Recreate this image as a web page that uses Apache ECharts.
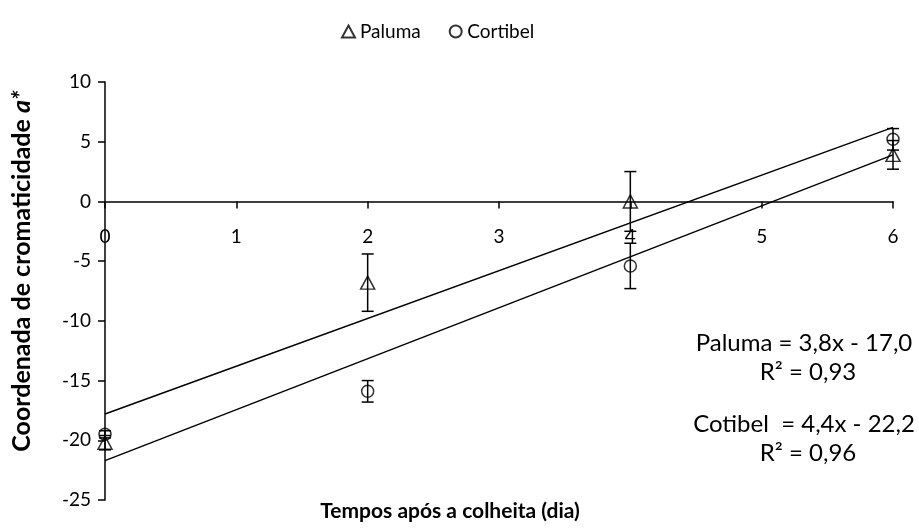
<!DOCTYPE html>
<html>
<head>
    <meta charset="utf-8" />
    <title>Coordenada a*</title>
    <script src="https://cdn.jsdelivr.net/npm/echarts@6/dist/echarts.min.js"></script>
    <style>
        html, body { margin: 0; padding: 0; background: #fff; }
        #main { width: 919px; height: 529px; }
    </style>
</head>
<body>
    <div id="main"></div>
    <script>
        // valores
        var dias = [0, 2, 4, 6];
        var paluma = [-20.2, -6.8, 0.0, 3.9];
        var palumaErro = [0.6, 2.4, 2.5, 1.2];
        var cortibel = [-19.5, -15.9, -5.4, 5.2];
        var cortibelErro = [0.3, 0.9, 1.9, 0.9];
        // linhas de tendencia (extremos em x = 0 e x = 6)
        var tendX = [0, 6];
        var palumaTend = [-17.8, 6.2];
        var cortibelTend = [-21.7, 3.9];
        var xTicks = [0, 1, 2, 3, 4, 5, 6];
        var yTicks = [-25, -20, -15, -10, -5, 0, 5, 10];

        var fonte = 'Lato, "Open Sans", sans-serif';
        var gTop = 82, gBottom = 29, gLeft = 105, gRight = 26;
        var gAltura = 529 - gTop - gBottom;
        var yMin = yTicks[0], yMax = yTicks[yTicks.length - 1];
        // eixo x cruzando em y = 0
        var deslocX = -gAltura * (0 - yMin) / (yMax - yMin);

        function pares(xs, ys) {
            return xs.map(function (x, i) { return [x, ys[i]]; });
        }
        function barras(xs, ys, es) {
            return xs.map(function (x, i) { return [x, ys[i] - es[i], ys[i] + es[i]]; });
        }

        //desenha barra de erro com tampas
        function barraErro(params, api) {
            var x = api.value(0);
            var a = api.coord([x, api.value(2)]);
            var b = api.coord([x, api.value(1)]);
            var w = 6;
            var st = { stroke: '#000', lineWidth: 1.5 };
            return {
                type: 'group',
                children: [
                    { type: 'line', shape: { x1: a[0], y1: a[1], x2: b[0], y2: b[1] }, style: st },
                    { type: 'line', shape: { x1: a[0] - w, y1: a[1], x2: a[0] + w, y2: a[1] }, style: st },
                    { type: 'line', shape: { x1: b[0] - w, y1: b[1], x2: b[0] + w, y2: b[1] }, style: st }
                ]
            };
        }

        var myChart = echarts.init(document.getElementById('main'));
        var option = {
            animation: false,
            textStyle: { fontFamily: fonte, color: '#000' },
            legend: {
                data: ['Paluma', 'Cortibel'],
                top: 17,
                left: 336,
                itemWidth: 13,
                itemHeight: 12,
                itemGap: 28,
                textStyle: { fontSize: 19, color: '#000', fontFamily: fonte }
            },
            grid: { left: gLeft, right: gRight, top: gTop, bottom: gBottom, containLabel: false, outerBoundsMode: 'none' },
            xAxis: {
                type: 'value',
                min: xTicks[0],
                max: xTicks[xTicks.length - 1],
                interval: 1,
                offset: deslocX,
                axisLine: { onZero: false, lineStyle: { color: '#000', width: 1.5 } },
                axisTick: { show: true, length: 7, lineStyle: { color: '#000', width: 1.5 } },
                axisLabel: { fontSize: 19, color: '#000', margin: 26, fontFamily: fonte },
                splitLine: { show: false }
            },
            yAxis: {
                type: 'value',
                min: yMin,
                max: yMax,
                interval: 5,
                axisLine: { show: true, onZero: false, lineStyle: { color: '#000', width: 1.5 } },
                axisTick: { show: true, length: 7, lineStyle: { color: '#000', width: 1.5 } },
                axisLabel: { fontSize: 19, color: '#000', margin: 14, fontFamily: fonte },
                splitLine: { show: false }
            },
            graphic: [
                {
                    type: 'text', x: 22, y: 271, rotation: Math.PI / 2,
                    style: {
                        text: '{b|Coordenada de cromaticidade }{i|a*}',
                        textAlign: 'center', textVerticalAlign: 'middle',
                        rich: {
                            b: { fontSize: 25, fontWeight: 'bold', fontFamily: fonte, fill: '#000' },
                            i: { fontSize: 25, fontWeight: 'bold', fontStyle: 'italic', fontFamily: fonte, fill: '#000' }
                        }
                    }
                },
                {
                    type: 'text', x: 450, y: 511,
                    style: {
                        text: 'Tempos após a colheita (dia)',
                        textAlign: 'center', textVerticalAlign: 'middle',
                        font: 'bold 21px ' + fonte, fill: '#000'
                    }
                },
                { type: 'text', x: 804, y: 343, style: { text: 'Paluma = 3,8x - 17,0', textAlign: 'center', textVerticalAlign: 'middle', font: '24px ' + fonte, fill: '#000' } },
                { type: 'text', x: 808, y: 372, style: { text: 'R² = 0,93', textAlign: 'center', textVerticalAlign: 'middle', font: '24px ' + fonte, fill: '#000' } },
                { type: 'text', x: 804, y: 424, style: { text: 'Cotibel  = 4,4x - 22,2', textAlign: 'center', textVerticalAlign: 'middle', font: '24px ' + fonte, fill: '#000' } },
                { type: 'text', x: 808, y: 453, style: { text: 'R² = 0,96', textAlign: 'center', textVerticalAlign: 'middle', font: '24px ' + fonte, fill: '#000' } }
            ],
            series: [
                {
                    name: 'tend Paluma', type: 'line', silent: true, symbol: 'none',
                    lineStyle: { color: '#000', width: 1.5 },
                    data: pares(tendX, palumaTend)
                },
                {
                    name: 'tend Cortibel', type: 'line', silent: true, symbol: 'none',
                    lineStyle: { color: '#000', width: 1.5 },
                    data: pares(tendX, cortibelTend)
                },
                {
                    name: 'erro Paluma', type: 'custom', renderItem: barraErro,
                    encode: { x: 0, y: [1, 2] },
                    data: barras(dias, paluma, palumaErro)
                },
                {
                    name: 'erro Cortibel', type: 'custom', renderItem: barraErro,
                    encode: { x: 0, y: [1, 2] },
                    data: barras(dias, cortibel, cortibelErro)
                },
                {
                    name: 'Paluma', type: 'scatter', symbol: 'triangle', symbolSize: [14, 13],
                    itemStyle: { color: 'rgba(255,255,255,0)', borderColor: '#000', borderWidth: 1.5 },
                    data: pares(dias, paluma)
                },
                {
                    name: 'Cortibel', type: 'scatter', symbol: 'circle', symbolSize: 12,
                    itemStyle: { color: 'rgba(255,255,255,0)', borderColor: '#000', borderWidth: 1.5 },
                    data: pares(dias, cortibel)
                }
            ]
        };
        myChart.setOption(option);
    </script>
</body>
</html>
